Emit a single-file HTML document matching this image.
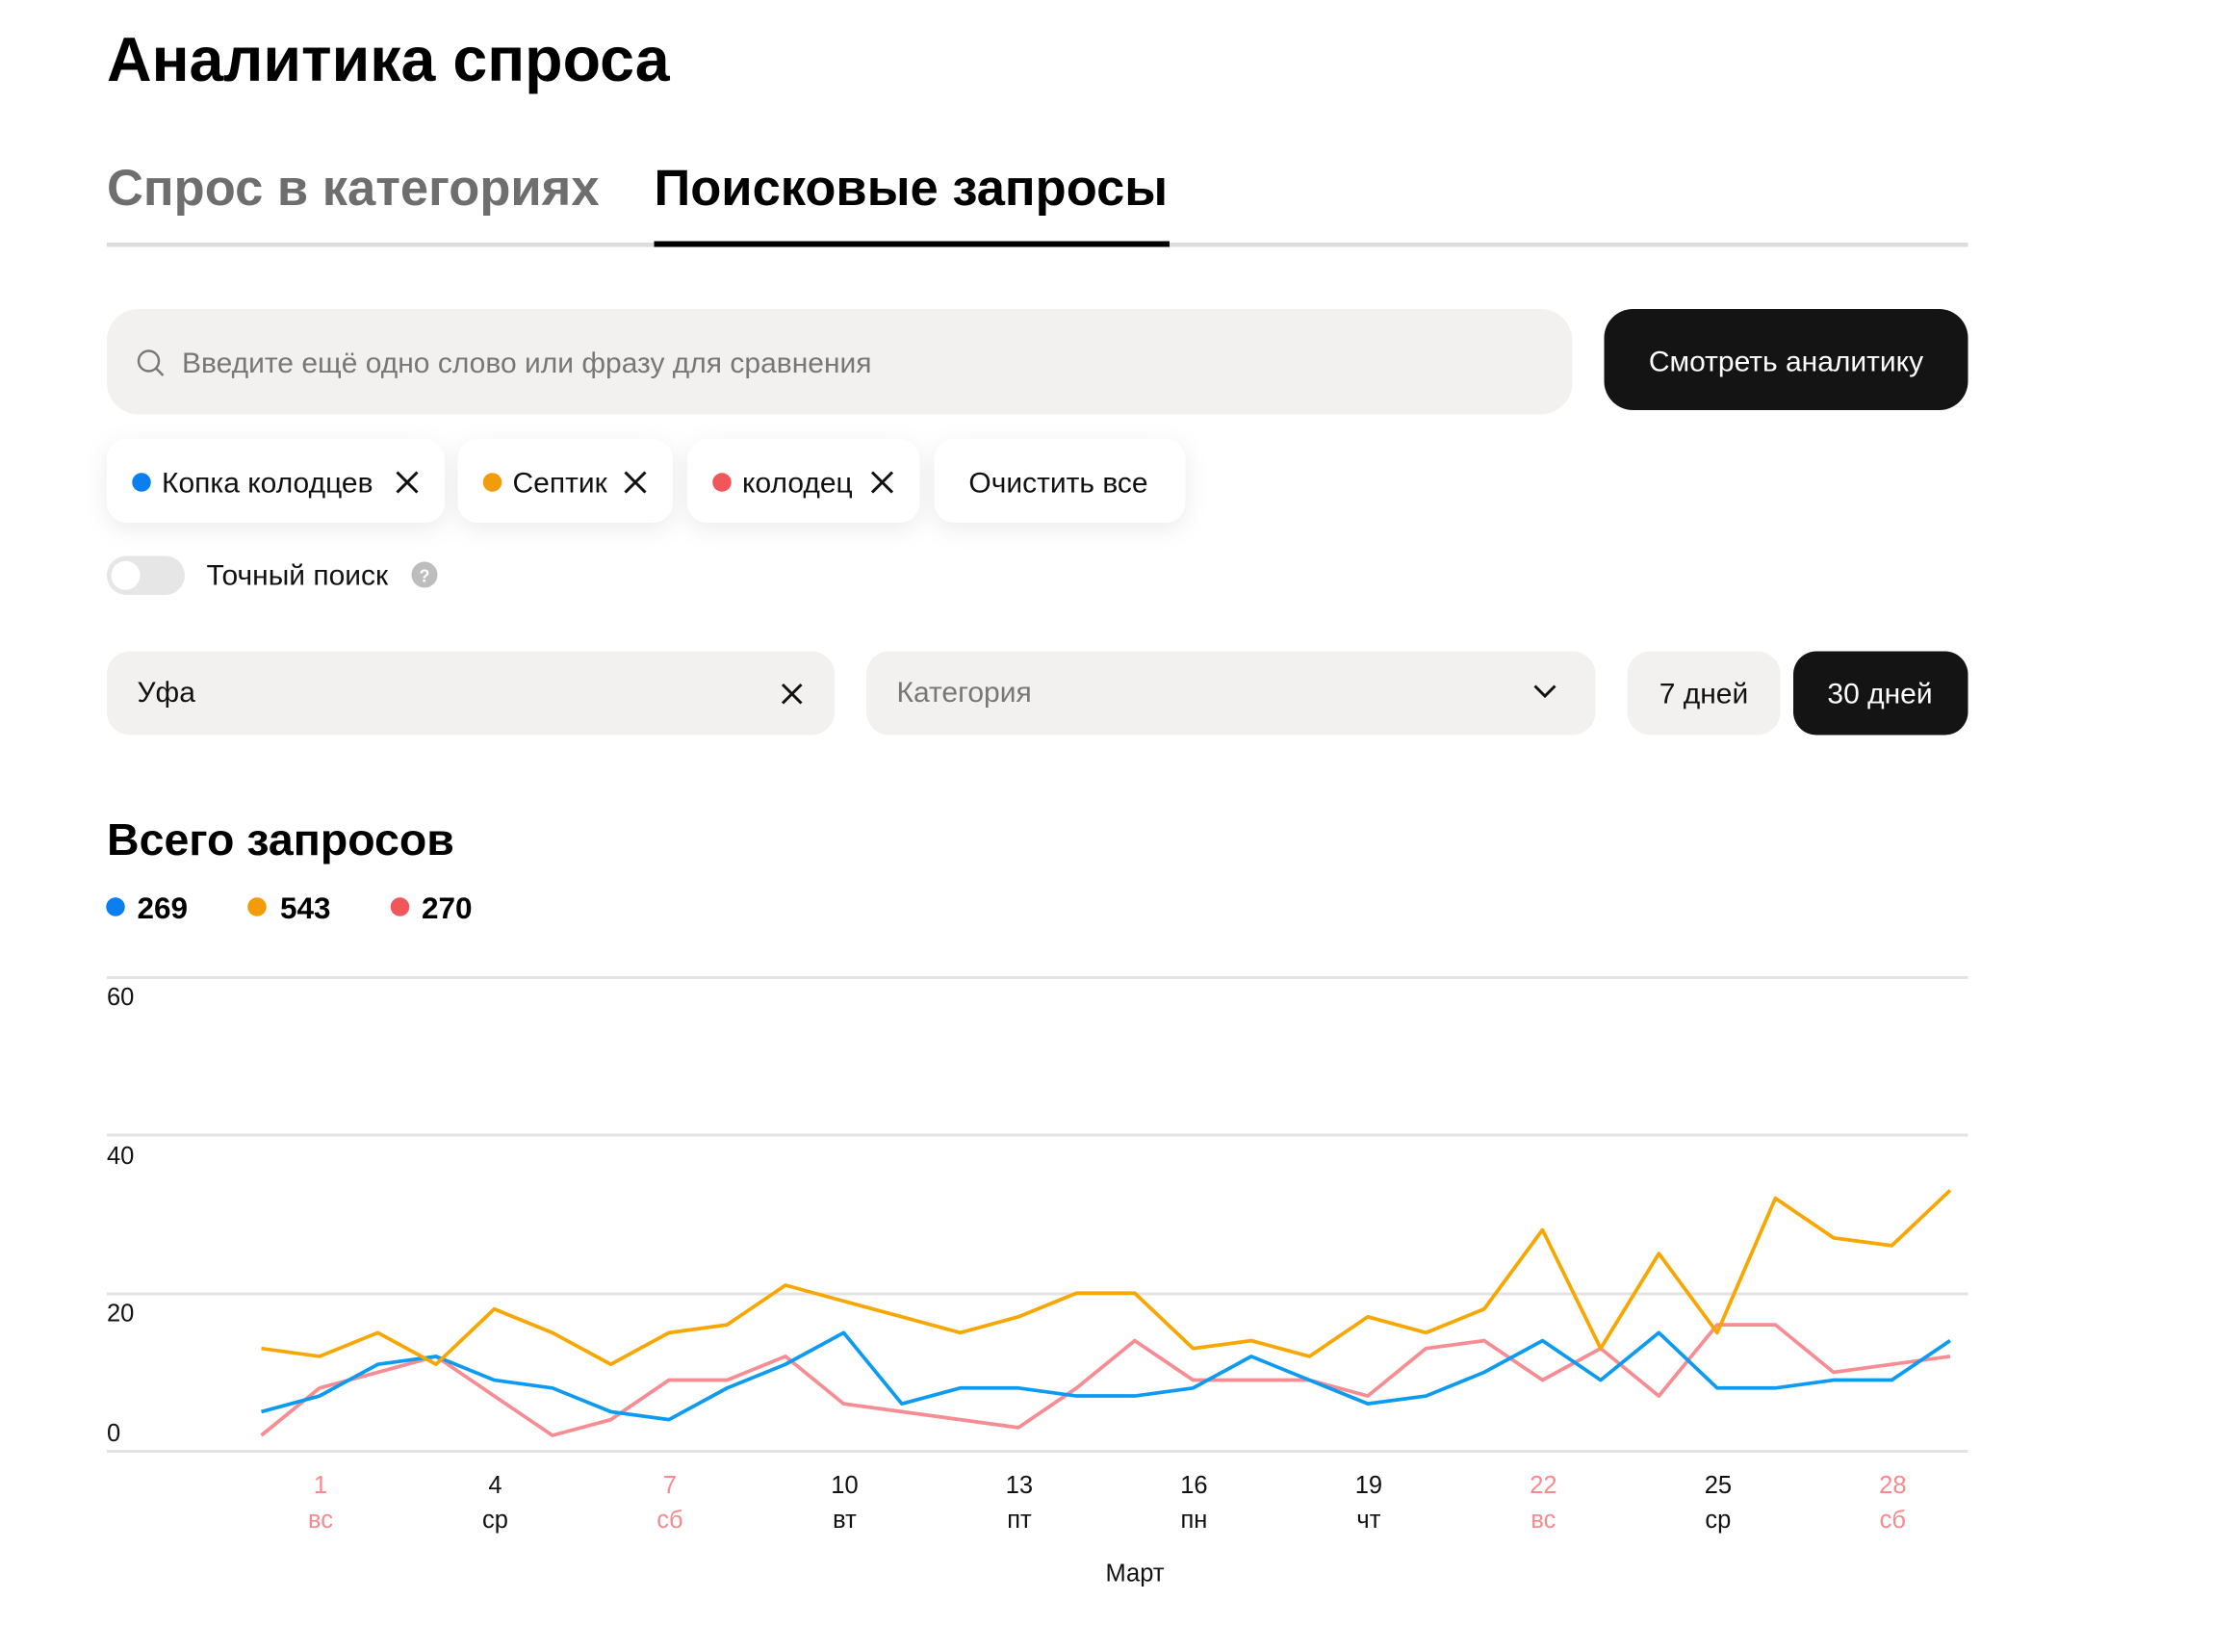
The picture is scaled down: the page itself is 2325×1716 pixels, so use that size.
<!DOCTYPE html>
<html><head><meta charset="utf-8"><style>
html,body{margin:0;padding:0;background:#fff}
svg{display:block}
text{font-family:"Liberation Sans","DejaVu Sans",sans-serif}
</style></head><body>
<svg id="s" width="2325" height="1716" viewBox="0 0 1550 1144" xmlns="http://www.w3.org/2000/svg">
<defs><filter id="sh" x="-20%" y="-30%" width="140%" height="180%"><feDropShadow dx="0" dy="4" stdDeviation="8" flood-color="#000" flood-opacity="0.08"/></filter></defs>
<rect width="1550" height="1144" fill="#fff"/>
<text x="74" y="56" font-size="43" font-weight="bold" fill="#000">Аналитика спроса</text>
<text x="74" y="142" font-size="35" font-weight="bold" fill="#6e6e6e">Спрос в категориях</text>
<text x="453" y="142" font-size="35" font-weight="bold" fill="#000">Поисковые запросы</text>
<rect x="74" y="168" width="1289" height="3" fill="#dcdcdc"/>
<rect x="453" y="167" width="357" height="4" fill="#000"/>
<rect x="74" y="214" width="1015" height="73" rx="22" fill="#f2f1ef"/>
<circle cx="103" cy="250" r="7" fill="none" stroke="#777" stroke-width="1.6"/><line x1="108" y1="255" x2="113" y2="260" stroke="#777" stroke-width="1.6"/>
<text x="126" y="258" font-size="20" fill="#777">Введите ещё одно слово или фразу для сравнения</text>
<rect x="1111" y="214" width="252" height="70" rx="20" fill="#141414"/>
<text x="1237" y="257" font-size="20" fill="#fff" text-anchor="middle">Смотреть аналитику</text>
<g filter="url(#sh)">
<rect x="74" y="304" width="234" height="58" rx="14" fill="#fff"/>
<rect x="317" y="304" width="149" height="58" rx="14" fill="#fff"/>
<rect x="476" y="304" width="161" height="58" rx="14" fill="#fff"/>
<rect x="647" y="304" width="174" height="58" rx="14" fill="#fff"/>
</g>
<circle cx="98" cy="334" r="6.5" fill="#0b7ff0"/><text x="112" y="341" font-size="20" fill="#111">Копка колодцев</text>
<path d="M275 327l14 14M289 327l-14 14" stroke="#111" stroke-width="2"/>
<circle cx="341" cy="334" r="6.5" fill="#f39c0a"/><text x="355" y="341" font-size="20" fill="#111">Септик</text>
<path d="M433 327l14 14M447 327l-14 14" stroke="#111" stroke-width="2"/>
<circle cx="500" cy="334" r="6.5" fill="#f0565a"/><text x="514" y="341" font-size="20" fill="#111">колодец</text>
<path d="M604 327l14 14M618 327l-14 14" stroke="#111" stroke-width="2"/>
<text x="733" y="341" font-size="20" fill="#111" text-anchor="middle">Очистить все</text>
<rect x="74" y="385" width="54" height="27" rx="13.5" fill="#e6e6e6"/><circle cx="87" cy="398.5" r="10" fill="#fff"/>
<text x="143" y="405" font-size="20" fill="#111">Точный поиск</text>
<circle cx="294" cy="398" r="9" fill="#bdbdbd"/><text x="294" y="403" font-size="12" fill="#fff" text-anchor="middle" font-weight="bold">?</text>
<rect x="74" y="451" width="504" height="58" rx="16" fill="#f2f1ef"/>
<text x="95" y="486" font-size="20" fill="#111">Уфа</text>
<path d="M542 474l13 13M555 474l-13 13" stroke="#111" stroke-width="2"/>
<rect x="600" y="451" width="505" height="58" rx="16" fill="#f2f1ef"/>
<text x="621" y="486" font-size="20" fill="#777">Категория</text>
<path d="M1063 475l7 7 7-7" fill="none" stroke="#111" stroke-width="2"/>
<rect x="1127" y="451" width="106" height="58" rx="16" fill="#f2f1ef"/>
<text x="1180" y="487" font-size="20" fill="#111" text-anchor="middle">7 дней</text>
<rect x="1242" y="451" width="121" height="58" rx="16" fill="#141414"/>
<text x="1302" y="487" font-size="20" fill="#fff" text-anchor="middle">30 дней</text>
<text x="74" y="592" font-size="31" font-weight="bold" fill="#000">Всего запросов</text>
<circle cx="80" cy="628" r="6.5" fill="#0b7ff0"/><text x="95" y="636" font-size="21" font-weight="bold">269</text>
<circle cx="178" cy="628" r="6.5" fill="#f39c0a"/><text x="194" y="636" font-size="21" font-weight="bold">543</text>
<circle cx="277" cy="628" r="6.5" fill="#f0565a"/><text x="292" y="636" font-size="21" font-weight="bold">270</text>
<g fill="#e3e3e3"><rect x="74" y="676" width="1289" height="2"/><rect x="74" y="785" width="1289" height="2"/><rect x="74" y="895" width="1289" height="2"/><rect x="74" y="1004" width="1289" height="2"/></g>
<g font-size="17" fill="#111"><text x="74" y="696">60</text><text x="74" y="806">40</text><text x="74" y="915">20</text><text x="74" y="998">0</text></g>
<g id="lines" fill="none" stroke-width="2.5" stroke-linejoin="round"></g>
<g id="xl" font-size="17" text-anchor="middle"></g>
<text x="786" y="1095" font-size="17" fill="#111" text-anchor="middle">Март</text>
</svg>
<script>
var O=[13,12,15,11,18,15,11,15,16,21,19,17,15,17,20,20,13,14,12,17,15,18,28,13,25,15,32,27,26,33];
var B=[5,7,11,12,9,8,5,4,8,11,15,6,8,8,7,7,8,12,9,6,7,10,14,9,15,8,8,9,9,14];
var P=[2,8,10,12,7,2,4,9,9,12,6,5,4,3,8,14,9,9,9,7,13,14,9,13,7,16,16,10,11,12];
function pts(a){return a.map(function(v,i){return (181+i*40.33).toFixed(1)+","+(1005-v*5.475).toFixed(1)}).join(" ")}
var g=document.getElementById("lines"),ns="http://www.w3.org/2000/svg";
[[P,"#f78c92"],[B,"#0d9bf2"],[O,"#f8a700"]].forEach(function(s){var p=document.createElementNS(ns,"polyline");p.setAttribute("points",pts(s[0]));p.setAttribute("stroke",s[1]);g.appendChild(p);});
var L=[[1,"вс",1],[4,"ср",0],[7,"сб",1],[10,"вт",0],[13,"пт",0],[16,"пн",0],[19,"чт",0],[22,"вс",1],[25,"ср",0],[28,"сб",1]];
var x=document.getElementById("xl");
L.forEach(function(l){var cx=222+(l[0]-1)*40.33,c=l[2]?"#f78a8f":"#111";
[[l[0],1034],[l[1],1058]].forEach(function(t){var e=document.createElementNS(ns,"text");e.setAttribute("x",cx);e.setAttribute("y",t[1]);e.setAttribute("fill",c);e.textContent=t[0];x.appendChild(e);});});
</script>
</body></html>
